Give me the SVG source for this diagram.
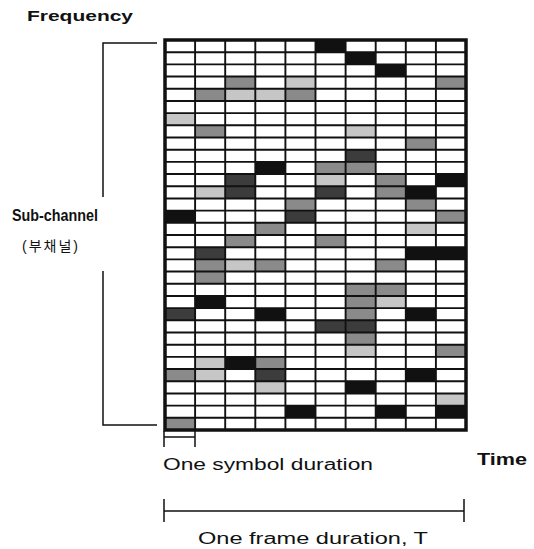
<svg xmlns="http://www.w3.org/2000/svg" width="534" height="549" viewBox="0 0 534 549">
<style>
.k{fill:#111}
.d{fill:#3c3c3c}
.m{fill:#8a8a8a}
.l{fill:#c6c6c6}
.ln{fill:none;stroke:#111;stroke-width:1.9}
.br{fill:none;stroke:#111;stroke-width:1.5}
.t{font-family:"Liberation Sans",Arial,sans-serif;fill:#111}
.b{font-weight:bold}
</style>
<rect width="534" height="549" fill="#fff"/>
<g id="labels">
<text class="t b" x="27" y="21" font-size="15.5" textLength="106" lengthAdjust="spacingAndGlyphs">Frequency</text>
<text class="t b" x="12" y="221" font-size="16" textLength="86" lengthAdjust="spacingAndGlyphs">Sub-channel</text>
<text x="22" y="251" font-size="14" textLength="56" lengthAdjust="spacing" style="font-family:'Liberation Sans','Noto Sans CJK KR',sans-serif;fill:#111">(부채널)</text>
<text class="t" x="163" y="470" font-size="16" textLength="210" lengthAdjust="spacingAndGlyphs">One symbol duration</text>
<text class="t b" x="477" y="465" font-size="16" textLength="50" lengthAdjust="spacingAndGlyphs">Time</text>
<text class="t" x="198" y="544" font-size="16" textLength="230" lengthAdjust="spacingAndGlyphs">One frame duration, T</text>
</g>
<g id="connectors">
<path class="br" d="M157,43 H103 V197 M103,271 V425 H157"/>
<path class="br" d="M164,431 V447 M195,431 V447 M164,437 H195"/>
<path class="br" d="M164,499 V522 M464,499 V522 M164,511 H464"/>
</g>
<g id="cells" transform="translate(165,40) scale(30.1,12.1875)">
<rect class="k" x="5" y="0" width="1" height="1"/>
<rect class="k" x="6" y="1" width="1" height="1"/>
<rect class="k" x="7" y="2" width="1" height="1"/>
<rect class="m" x="2" y="3" width="1" height="1"/>
<rect class="l" x="4" y="3" width="1" height="1"/>
<rect class="m" x="9" y="3" width="1" height="1"/>
<rect class="m" x="1" y="4" width="1" height="1"/>
<rect class="l" x="2" y="4" width="1" height="1"/>
<rect class="l" x="3" y="4" width="1" height="1"/>
<rect class="m" x="4" y="4" width="1" height="1"/>
<rect class="l" x="0" y="6" width="1" height="1"/>
<rect class="m" x="1" y="7" width="1" height="1"/>
<rect class="l" x="6" y="7" width="1" height="1"/>
<rect class="m" x="8" y="8" width="1" height="1"/>
<rect class="d" x="6" y="9" width="1" height="1"/>
<rect class="k" x="3" y="10" width="1" height="1"/>
<rect class="m" x="5" y="10" width="1" height="1"/>
<rect class="m" x="6" y="10" width="1" height="1"/>
<rect class="d" x="2" y="11" width="1" height="1"/>
<rect class="l" x="5" y="11" width="1" height="1"/>
<rect class="m" x="7" y="11" width="1" height="1"/>
<rect class="k" x="9" y="11" width="1" height="1"/>
<rect class="l" x="1" y="12" width="1" height="1"/>
<rect class="d" x="2" y="12" width="1" height="1"/>
<rect class="d" x="5" y="12" width="1" height="1"/>
<rect class="m" x="7" y="12" width="1" height="1"/>
<rect class="k" x="8" y="12" width="1" height="1"/>
<rect class="m" x="4" y="13" width="1" height="1"/>
<rect class="m" x="8" y="13" width="1" height="1"/>
<rect class="k" x="0" y="14" width="1" height="1"/>
<rect class="d" x="4" y="14" width="1" height="1"/>
<rect class="m" x="9" y="14" width="1" height="1"/>
<rect class="m" x="3" y="15" width="1" height="1"/>
<rect class="l" x="8" y="15" width="1" height="1"/>
<rect class="m" x="2" y="16" width="1" height="1"/>
<rect class="m" x="5" y="16" width="1" height="1"/>
<rect class="d" x="1" y="17" width="1" height="1"/>
<rect class="k" x="8" y="17" width="1" height="1"/>
<rect class="k" x="9" y="17" width="1" height="1"/>
<rect class="m" x="1" y="18" width="1" height="1"/>
<rect class="l" x="2" y="18" width="1" height="1"/>
<rect class="m" x="3" y="18" width="1" height="1"/>
<rect class="m" x="7" y="18" width="1" height="1"/>
<rect class="m" x="1" y="19" width="1" height="1"/>
<rect class="m" x="6" y="20" width="1" height="1"/>
<rect class="m" x="7" y="20" width="1" height="1"/>
<rect class="k" x="1" y="21" width="1" height="1"/>
<rect class="m" x="6" y="21" width="1" height="1"/>
<rect class="l" x="7" y="21" width="1" height="1"/>
<rect class="d" x="0" y="22" width="1" height="1"/>
<rect class="k" x="3" y="22" width="1" height="1"/>
<rect class="m" x="6" y="22" width="1" height="1"/>
<rect class="k" x="8" y="22" width="1" height="1"/>
<rect class="d" x="5" y="23" width="1" height="1"/>
<rect class="d" x="6" y="23" width="1" height="1"/>
<rect class="m" x="6" y="24" width="1" height="1"/>
<rect class="l" x="6" y="25" width="1" height="1"/>
<rect class="m" x="9" y="25" width="1" height="1"/>
<rect class="l" x="1" y="26" width="1" height="1"/>
<rect class="k" x="2" y="26" width="1" height="1"/>
<rect class="m" x="3" y="26" width="1" height="1"/>
<rect class="m" x="0" y="27" width="1" height="1"/>
<rect class="l" x="1" y="27" width="1" height="1"/>
<rect class="d" x="3" y="27" width="1" height="1"/>
<rect class="k" x="8" y="27" width="1" height="1"/>
<rect class="l" x="3" y="28" width="1" height="1"/>
<rect class="k" x="6" y="28" width="1" height="1"/>
<rect class="l" x="9" y="29" width="1" height="1"/>
<rect class="k" x="4" y="30" width="1" height="1"/>
<rect class="k" x="7" y="30" width="1" height="1"/>
<rect class="k" x="9" y="30" width="1" height="1"/>
<rect class="m" x="0" y="31" width="1" height="1"/>
</g>
<g id="grid">
<path class="ln" d="M195.1,40V430M225.2,40V430M255.3,40V430M285.4,40V430M315.5,40V430M345.6,40V430M375.7,40V430M405.8,40V430M435.9,40V430
M165,52.19H466M165,64.38H466M165,76.56H466M165,88.75H466M165,100.94H466M165,113.13H466M165,125.31H466M165,137.5H466M165,149.69H466M165,161.88H466
M165,174.06H466M165,186.25H466M165,198.44H466M165,210.63H466M165,222.81H466M165,235H466M165,247.19H466M165,259.38H466M165,271.56H466M165,283.75H466
M165,295.94H466M165,308.13H466M165,320.31H466M165,332.5H466M165,344.69H466M165,356.88H466M165,369.06H466M165,381.25H466M165,393.44H466M165,405.63H466M165,417.81H466"/>
<rect x="165" y="40" width="301" height="390" fill="none" stroke="#111" stroke-width="3.5"/>
</g>
</svg>
